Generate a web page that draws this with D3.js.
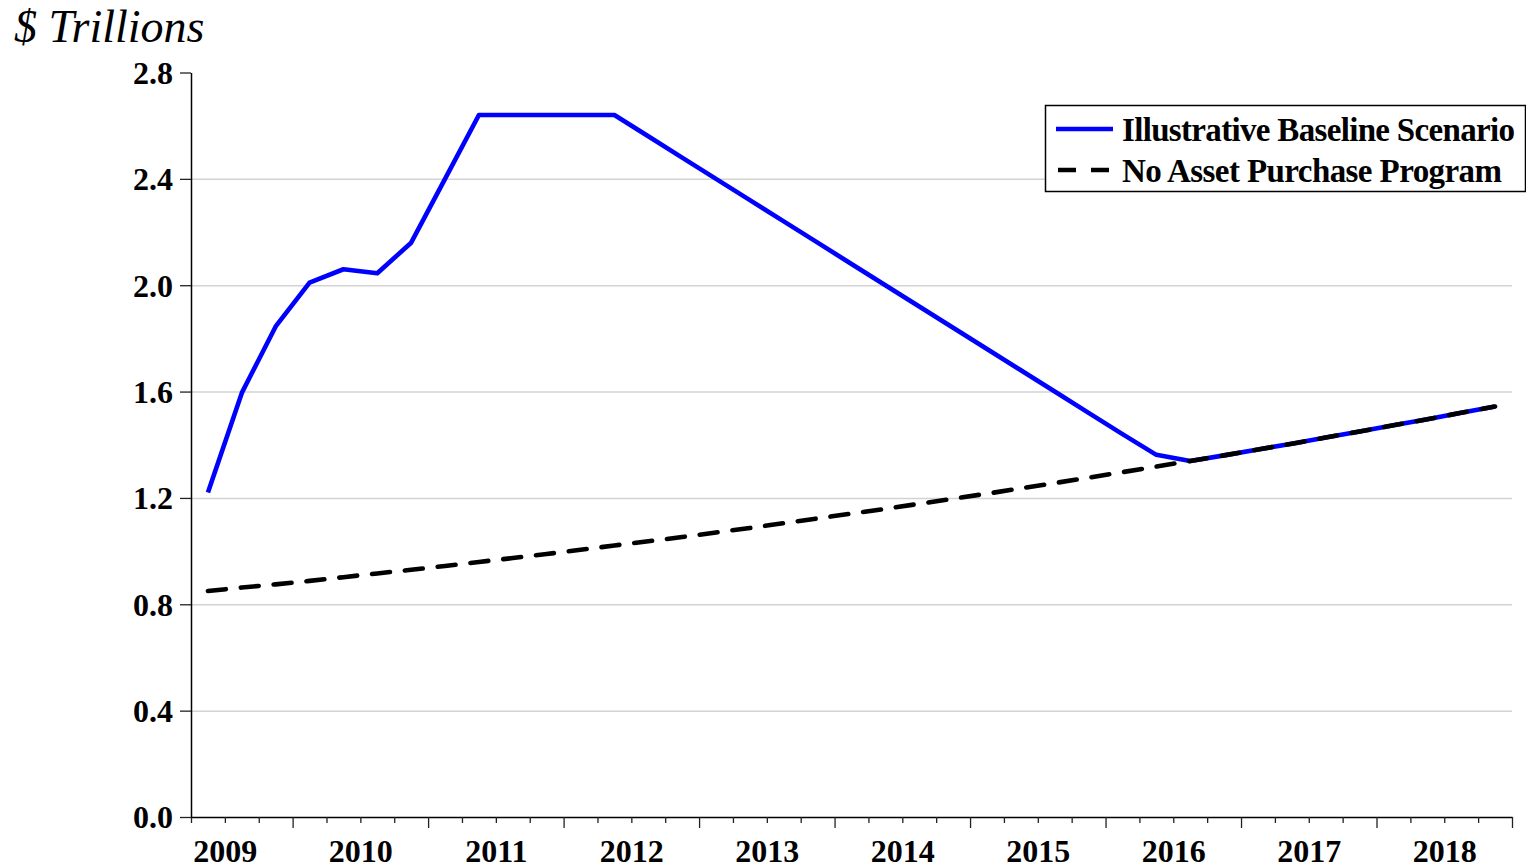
<!DOCTYPE html>
<html>
<head>
<meta charset="utf-8">
<script src="https://cdn.jsdelivr.net/npm/d3@7"></script>
<style>
  body { margin: 0; background: #fff; }
  svg { display: block; }
  text { font-family: "Liberation Serif", "Times New Roman", serif; }
</style>
</head>
<body>
<div id="chart"></div>
<script>
// quarterly data, 2009 Q1 .. 2018 Q3 (39 quarters)
var years = ["2009","2010","2011","2012","2013","2014","2015","2016","2017","2018"];
var yTicks = [0, 0.4, 0.8, 1.2, 1.6, 2.0, 2.4, 2.8];

var noPurchase = [0.850, 0.863, 0.875, 0.888, 0.902, 0.916, 0.930, 0.944, 0.959, 0.974,
                  0.989, 1.005, 1.021, 1.037, 1.053, 1.070, 1.087, 1.105, 1.123, 1.141,
                  1.159, 1.178, 1.197, 1.216, 1.236, 1.256, 1.276, 1.297, 1.318, 1.339,
                  1.360, 1.382, 1.404, 1.427, 1.450, 1.473, 1.496, 1.520, 1.544];

var baseline = [1.220, 1.595, 1.845, 2.010, 2.060, 2.045, 2.160, 2.400, 2.640, 2.640,
                2.640, 2.640, 2.640, 2.560, 2.480, 2.400, 2.320, 2.240, 2.160, 2.080,
                2.000, 1.920, 1.840, 1.760, 1.680, 1.600, 1.520, 1.440, 1.362, 1.339,
                1.360, 1.382, 1.404, 1.427, 1.450, 1.473, 1.496, 1.520, 1.544];

var seriesNames = ["Illustrative Baseline Scenario", "No Asset Purchase Program"];

// set the dimensions and margins of the graph
var margin = {top: 72.5, right: 14, bottom: 51, left: 191},
    width = 1526 - margin.left - margin.right,
    height = 868 - margin.top - margin.bottom;

var svg = d3.select("#chart")
  .append("svg")
    .attr("width", 1526)
    .attr("height", 868)
  .append("g")
    .attr("transform", "translate(" + margin.left + "," + margin.top + ")");

var n = noPurchase.length;
var x = d3.scaleLinear().domain([0, n]).range([0, width]);
var y = d3.scaleLinear().domain([0, 2.8]).range([height, 0]);

// gridlines
svg.append("g")
  .call(d3.axisLeft(y).tickValues(yTicks.slice(1, 7)).tickSize(-width).tickFormat(""))
  .call(function(g) { g.select(".domain").remove(); })
  .selectAll("line")
    .attr("stroke", "#d3d3d3")
    .attr("stroke-width", 1.5);

// x axis: minor quarter ticks, major ticks, then year labels
var allQ = d3.range(0, n + 1);
var majorQ = allQ.filter(function(d) { return d % 4 == 3 || d == n; });
var minorQ = allQ.filter(function(d) { return majorQ.indexOf(d) < 0; });

svg.append("g")
  .attr("transform", "translate(0," + height + ")")
  .call(d3.axisBottom(x).tickValues(minorQ).tickSize(6).tickSizeOuter(0).tickFormat(""))
  .call(function(g) { g.select(".domain").attr("stroke", "#000").attr("stroke-width", 1.5); });

svg.append("g")
  .attr("transform", "translate(0," + height + ")")
  .call(d3.axisBottom(x).tickValues(majorQ).tickSize(11).tickSizeOuter(0).tickFormat(""))
  .call(function(g) { g.select(".domain").remove(); });

svg.append("g")
  .attr("transform", "translate(0," + height + ")")
  .call(d3.axisBottom(x).tickValues(years.map(function(d, i) { return 1 + 4 * i; }))
        .tickSize(0).tickFormat(function(d) { return years[(d - 1) / 4]; }))
  .call(function(g) { g.select(".domain").remove(); })
  .selectAll("text")
    .attr("y", 45)
    .attr("dy", 0)
    .style("font-size", "32px")
    .style("font-weight", "bold")
    .attr("fill", "#000");

// y axis
svg.append("g")
  .call(d3.axisLeft(y).tickValues(yTicks).tickSize(11).tickSizeOuter(0)
        .tickFormat(d3.format(".1f")))
  .call(function(g) { g.select(".domain").attr("stroke", "#000").attr("stroke-width", 1.5); })
  .call(function(g) {
    g.selectAll("text")
      .attr("x", -18)
      .attr("dy", "0.34em")
      .style("font-size", "32px")
      .style("font-weight", "bold")
      .attr("fill", "#000");
  });

svg.selectAll(".tick line").filter(function() { return d3.select(this).attr("stroke") == "currentColor"; })
  .attr("stroke", "#222").attr("stroke-width", 1.3);

// unit label
d3.select("svg").append("text")
  .attr("x", 14)
  .attr("y", 42)
  .style("font-size", "46px")
  .style("font-style", "italic")
  .text("$ Trillions");

// lines
var line = d3.line()
  .x(function(d, i) { return x(i + 0.5); })
  .y(function(d) { return y(d); });

svg.append("path")
  .datum(baseline)
  .attr("d", line)
  .attr("fill", "none")
  .attr("stroke", "#0000ff")
  .attr("stroke-width", 4.6)
  .attr("stroke-linejoin", "round");

svg.append("path")
  .datum(noPurchase)
  .attr("d", line)
  .attr("fill", "none")
  .attr("stroke", "#000")
  .attr("stroke-width", 4.6)
  .attr("stroke-linecap", "round")
  .attr("stroke-dasharray", "18,15");

// legend
var legend = d3.select("svg").append("g");
legend.append("rect")
  .attr("x", 1045.5).attr("y", 105.5)
  .attr("width", 480).attr("height", 86)
  .attr("fill", "#fff")
  .attr("stroke", "#000")
  .attr("stroke-width", 1.5);

var legY = [129, 170];
legend.append("line")
  .attr("x1", 1056).attr("x2", 1113)
  .attr("y1", legY[0]).attr("y2", legY[0])
  .attr("stroke", "#0000ff").attr("stroke-width", 4.6);
legend.append("line")
  .attr("x1", 1058).attr("x2", 1113)
  .attr("y1", legY[1]).attr("y2", legY[1])
  .attr("stroke", "#000").attr("stroke-width", 4.6)
  .attr("stroke-dasharray", "18,15");

legend.selectAll("text.leg")
  .data(seriesNames)
  .enter()
  .append("text")
    .attr("class", "leg")
    .attr("x", 1122)
    .attr("y", function(d, i) { return legY[i] + 12; })
    .attr("textLength", function(d, i) { return i == 0 ? 393 : 380; })
    .style("font-size", "33px")
    .style("font-weight", "bold")
    .text(function(d) { return d; });
</script>
</body>
</html>
